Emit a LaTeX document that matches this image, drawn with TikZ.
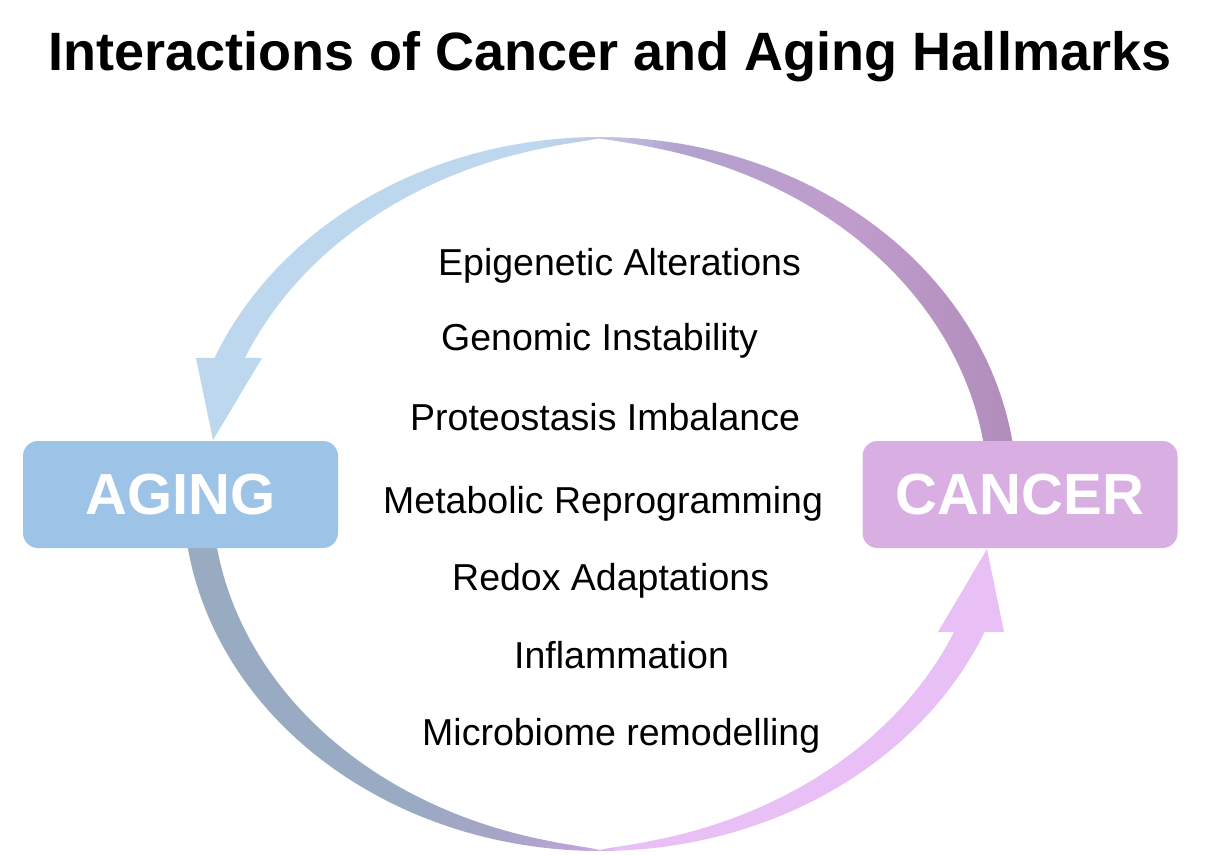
\documentclass[tikz,border=0pt]{standalone}
\usepackage{fontspec}
\setmainfont{Liberation Sans}
\definecolor{agingbox}{RGB}{157,195,230}
\definecolor{cancerbox}{RGB}{217,175,227}
\definecolor{tblue}{RGB}{189,215,238}
\definecolor{tmid}{RGB}{192,196,226}
\definecolor{tlav}{RGB}{178,162,205}
\definecolor{tpurp}{RGB}{192,156,205}
\definecolor{tdark}{RGB}{176,140,185}
\definecolor{bgrey}{RGB}{150,172,192}
\definecolor{bgreyb}{RGB}{153,171,194}
\definecolor{blav}{RGB}{166,164,200}
\definecolor{bmid}{RGB}{190,165,215}
\definecolor{bpink}{RGB}{233,192,245}
\pgfdeclarehorizontalshading{topgrad}{100bp}{color(0bp)=(tblue); color(45.87bp)=(tblue); color(50.12bp)=(tmid); color(54.37bp)=(tlav); color(64.68bp)=(tpurp); color(75bp)=(tdark); color(100bp)=(tdark)}
\pgfdeclarehorizontalshading{botgrad}{100bp}{color(0bp)=(bgrey); color(38.25bp)=(bgreyb); color(44.28bp)=(blav); color(49.1bp)=(bmid); color(51.5bp)=(bpink); color(100bp)=(bpink)}
\pgfmathdeclarefunction{bw}{1}{\pgfmathparse{1+28*(abs(cos(#1))+0.0001)^0.72}}
\def\toparcpath{plot[domain=5:157.6,samples=100] ({600+417*cos(\x)},{494-357*sin(\x)}) -- (196,358) -- (213,440) -- (262,358) -- plot[domain=155.64:5,samples=100] ({600+(417-bw(\x))*cos(\x)},{494-(357-bw(\x))*sin(\x)}) -- cycle}
\def\botarcpath{plot[domain=185:337.26,samples=100] ({600+417*cos(\x)},{494-357*sin(\x)}) -- (1004,632) -- (987,549) -- (938,632) -- plot[domain=335.25:185,samples=100] ({600+(417-bw(\x))*cos(\x)},{494-(357-bw(\x))*sin(\x)}) -- cycle}
\tikzset{
  hbox/.style={rectangle, rounded corners=15pt, minimum width=315pt, minimum height=107pt, inner sep=0pt, text=white, font={\fontsize{58}{60}\selectfont\bfseries}},
  item/.style={anchor=base west, inner sep=0pt, font={\fontsize{37.5}{44}\selectfont}},
}
\begin{document}
\begin{tikzpicture}[x=1pt,y=-1pt]
\useasboundingbox (0,0) rectangle (1220,854);
\fill[white] (0,0) rectangle (1220,854);
\node[anchor=base, inner sep=0pt, font={\fontsize{54}{60}\selectfont\bfseries}] (title) at (610,70) {Interactions of Cancer and Aging Hallmarks};
\begin{scope}
\clip \toparcpath;
\shade[shading=topgrad] (196,120) rectangle (1020,470);
\end{scope}
\begin{scope}
\clip \botarcpath;
\shade[shading=botgrad] (180,520) rectangle (1010,860);
\end{scope}
\node[hbox, fill=agingbox] (aging) at (180.5,494.5) {AGING};
\node[hbox, fill=cancerbox] (cancer) at (1020,494.5) {CANCER};
\node[item] (i1) at (438,275) {Epigenetic Alterations};
\node[item] (i2) at (441,350) {Genomic Instability};
\node[item] (i3) at (410,430) {Proteostasis Imbalance};
\node[item] (i4) at (383,513) {Metabolic Reprogramming};
\node[item] (i5) at (452,590) {Redox Adaptations};
\node[item] (i6) at (514,668) {Inflammation};
\node[item] (i7) at (422,745) {Microbiome remodelling};
\end{tikzpicture}
\end{document}
